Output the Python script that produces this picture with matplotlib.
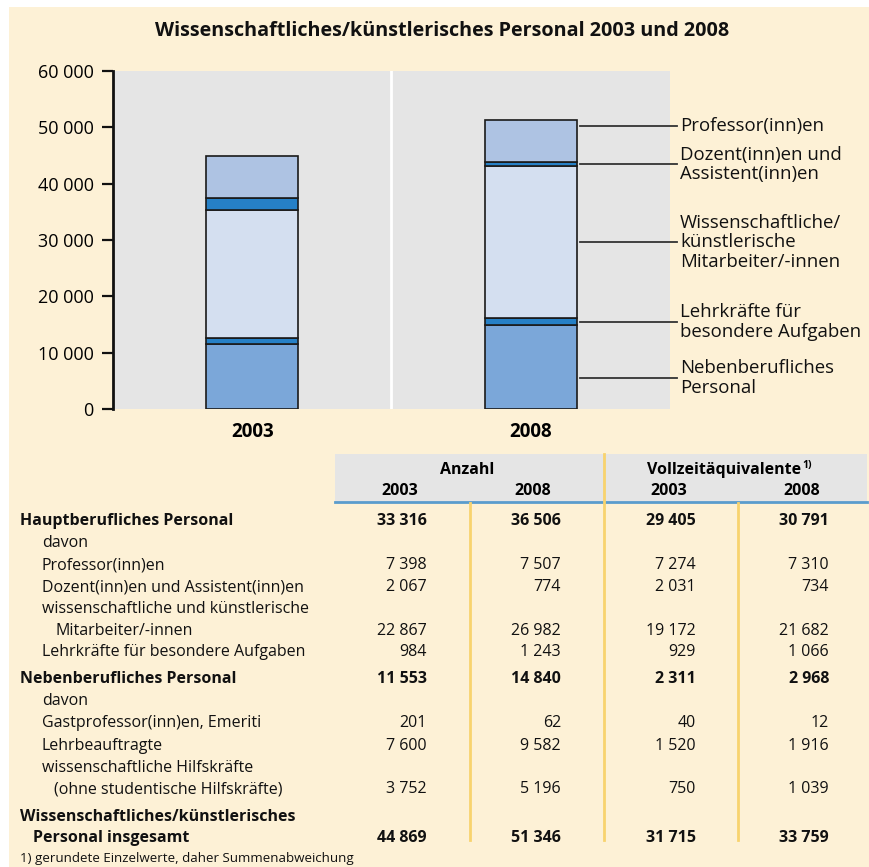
import matplotlib
matplotlib.use("Agg")
import matplotlib.pyplot as plt
import matplotlib.transforms as mtransforms
from matplotlib.patches import Rectangle
from matplotlib.lines import Line2D

plt.rcParams['font.family'] = ['Open Sans', 'DejaVu Sans']

# ---------------- data ----------------
years = ["2003", "2008"]
nebenberuflich = [11553, 14840]
lehrkraefte = [984, 1243]
wiss_mitarbeiter = [22867, 26982]
dozenten = [2067, 774]
professoren = [7398, 7507]

segment_names = ["Nebenberufliches\nPersonal",
                 "Lehrkräfte für\nbesondere Aufgaben",
                 "Wissenschaftliche/\nkünstlerische\nMitarbeiter/-innen",
                 "Dozent(inn)en und\nAssistent(inn)en",
                 "Professor(inn)en"]
yticks = [0, 10000, 20000, 30000, 40000, 50000, 60000]

table_labels = [
    "Hauptberufliches Personal", "davon", "Professor(inn)en",
    "Dozent(inn)en und Assistent(inn)en", "wissenschaftliche und künstlerische",
    "Mitarbeiter/-innen", "Lehrkräfte für besondere Aufgaben",
    "Nebenberufliches Personal", "davon", "Gastprofessor(inn)en, Emeriti",
    "Lehrbeauftragte", "wissenschaftliche Hilfskräfte",
    "(ohne studentische Hilfskräfte)", "Wissenschaftliches/künstlerisches",
    "Personal insgesamt",
]
anzahl_2003 = [33316, None, 7398, 2067, None, 22867, 984, 11553, None, 201, 7600, None, 3752, None, 44869]
anzahl_2008 = [36506, None, 7507, 774, None, 26982, 1243, 14840, None, 62, 9582, None, 5196, None, 51346]
vza_2003 = [29405, None, 7274, 2031, None, 19172, 929, 2311, None, 40, 1520, None, 750, None, 31715]
vza_2008 = [30791, None, 7310, 734, None, 21682, 1066, 2968, None, 12, 1916, None, 1039, None, 33759]
footnote = "1) gerundete Einzelwerte, daher Summenabweichung"

# ---------------- style / layout ----------------
W, H = 870, 867
CREAM = "#FDF1D6"
GRAY = "#E5E5E5"
DARK_BLUE = "#2680C6"
colors = ["#7BA7D9", DARK_BLUE, "#D4DFF0", DARK_BLUE, "#AEC3E3"]
YELLOW = "#F8D36E"
LINE_BLUE = "#5A9CCD"

def fx(x):
    return x / W

def fy(y):
    return 1 - y / H

fig = plt.figure(figsize=(W / 100, H / 100), dpi=100)
fig.patch.set_facecolor("white")
fig.patches.append(Rectangle((fx(9), 0), 1 - fx(9), fy(7), transform=fig.transFigure,
                             facecolor=CREAM, edgecolor="none", zorder=-10))

fig.text(fx(442), fy(31), "Wissenschaftliches/künstlerisches Personal 2003 und 2008",
         ha="center", va="center", fontsize=14.2, fontweight="bold", color="#111111")

# ---------------- chart ----------------
ax = fig.add_axes([fx(113), fy(409), fx(670) - fx(113), fy(71) - fy(409)])
ax.set_facecolor(GRAY)
x = list(range(len(years)))
series = [nebenberuflich, lehrkraefte, wiss_mitarbeiter, dozenten, professoren]
bottom = [0] * len(years)
for vals, col in zip(series, colors):
    ax.bar(x, vals, bottom=bottom, width=0.33, color=col, edgecolor="#1a1a1a",
           linewidth=1.2, zorder=3)
    bottom = [b + v for b, v in zip(bottom, vals)]

ax.set_xlim(-0.5, 1.5)
ax.set_ylim(0, 60000)
ax.axvline(0.5, color="white", lw=2, zorder=1)
for s in ["top", "right", "bottom"]:
    ax.spines[s].set_visible(False)
ax.spines["left"].set_linewidth(2)
ax.spines["left"].set_color("#111111")
ax.set_yticks(yticks)
ax.set_yticklabels([f"{v:,}".replace(",", " ") for v in yticks], fontsize=13)
ax.tick_params(axis="y", direction="out", length=8, width=1.6, color="#111111", pad=6)
ax.set_xticks(x)
ax.set_xticklabels(years, fontsize=13.5, fontweight="bold")
ax.tick_params(axis="x", length=0, pad=9)

# leader lines & labels (label anchor heights in data units)
label_anchor = [5500, 15460, 29570, 43450, 50240]
trans = mtransforms.blended_transform_factory(fig.transFigure, ax.transData)
for name, yv in zip(segment_names, label_anchor):
    ax.add_line(Line2D([fx(580), fx(677)], [yv, yv], transform=trans, color="#333333",
                       lw=1.3, clip_on=False, zorder=4))
    ax.text(fx(680), yv, name, transform=trans, ha="left", va="center",
            fontsize=13.4, linespacing=1.1, color="#111111", clip_on=False)

# ---------------- table ----------------
fig.patches.append(Rectangle((fx(335), fy(502)), fx(867) - fx(335), fy(454) - fy(502),
                             transform=fig.transFigure, facecolor=GRAY, edgecolor="none"))
fig.lines.append(Line2D([fx(335), fx(867)], [fy(502), fy(502)], transform=fig.transFigure,
                        color=LINE_BLUE, lw=2))
fig.lines.append(Line2D([fx(604), fx(604)], [fy(454), fy(840)], transform=fig.transFigure,
                        color=YELLOW, lw=2))
for xl in (470, 738):
    fig.lines.append(Line2D([fx(xl), fx(xl)], [fy(503), fy(840)], transform=fig.transFigure,
                            color=YELLOW, lw=2))

TS = 11.5
fig.text(fx(467), fy(474), "Anzahl", ha="center", va="baseline", fontsize=TS,
         fontweight="bold")
fig.text(fx(801), fy(474), "Vollzeitäquivalente", ha="right", va="baseline", fontsize=TS,
         fontweight="bold")
fig.text(fx(802), fy(468), "1)", ha="left", va="baseline", fontsize=7.5, fontweight="bold")
for xc, yr in zip((400, 533, 669, 802), ("2003", "2008", "2003", "2008")):
    fig.text(fx(xc), fy(495), yr, ha="center", va="baseline", fontsize=TS,
             fontweight="bold")

row_y = [519, 541, 563, 585, 607, 629, 650, 677, 699, 721, 744, 766, 787, 815, 836]
row_x = [20, 42, 42, 42, 42, 56, 42, 20, 42, 42, 42, 42, 54, 20, 33]
row_bold = [True, False, False, False, False, False, False, True, False, False, False,
            False, False, True, True]
col_right = [427, 561, 696, 829]
for i, lab in enumerate(table_labels):
    fw = "bold" if row_bold[i] else "normal"
    yb = fy(row_y[i] + 6)
    fig.text(fx(row_x[i]), yb, lab, ha="left", va="baseline", fontsize=TS, fontweight=fw,
             color="#111111")
    for xr, col in zip(col_right, (anzahl_2003, anzahl_2008, vza_2003, vza_2008)):
        v = col[i]
        if v is not None:
            fig.text(fx(xr), yb, f"{v:,}".replace(",", " "), ha="right", va="baseline",
                     fontsize=TS, fontweight=fw, color="#111111")

fig.text(fx(20), fy(862), footnote, ha="left", va="baseline", fontsize=9.6, color="#111111")

fig.savefig("out.png", dpi=100, facecolor=fig.get_facecolor())
